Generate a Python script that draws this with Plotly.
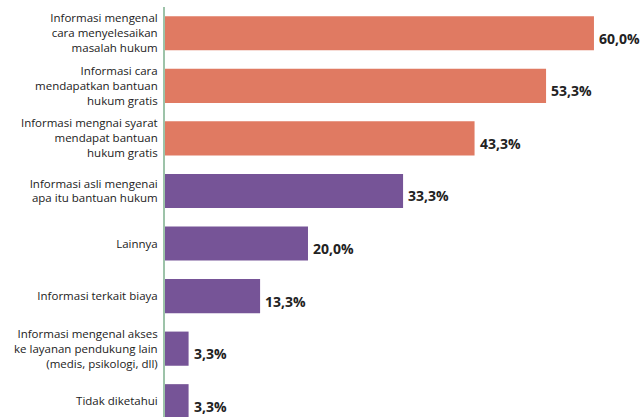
import plotly.graph_objects as go

categories = [
    "Informasi mengenal<br>cara menyelesaikan<br>masalah hukum",
    "Informasi cara<br>mendapatkan bantuan<br>hukum gratis",
    "Informasi mengnai syarat<br>mendapat bantuan<br>hukum gratis",
    "Informasi asli mengenai<br>apa itu bantuan hukum",
    "Lainnya",
    "Informasi terkait biaya",
    "Informasi mengenal akses<br>ke layanan pendukung lain<br>(medis, psikologi, dll)",
    "Tidak diketahui",
]
values = [60.0, 53.3, 43.3, 33.3, 20.0, 13.3, 3.3, 3.3]
value_labels = ["60,0%", "53,3%", "43,3%", "33,3%", "20,0%", "13,3%", "3,3%", "3,3%"]
bar_colors = ["#E07A62"] * 3 + ["#765497"] * 5

fig = go.Figure()
fig.add_trace(go.Bar(
    x=values, y=categories, orientation="h",
    marker=dict(color=bar_colors, line=dict(width=0)),
    width=0.65, hoverinfo="skip",
))
for v, c, t in zip(values, categories, value_labels):
    fig.add_annotation(x=v, y=c, text="<b>" + t + "</b>", showarrow=False,
                       xanchor="left", yanchor="middle", xshift=3, yshift=-5,
                       font=dict(family="Open Sans", size=14, color="#222222"))

fig.update_layout(
    width=644, height=417,
    margin=dict(l=165, r=0, t=7, b=0),
    paper_bgcolor="white", plot_bgcolor="white",
    showlegend=False,
    font=dict(family="Open Sans", size=11.5, color="#222222"),
    xaxis=dict(range=[0, 67], visible=False, showgrid=False, zeroline=False, automargin=False),
    yaxis=dict(type="category", range=[7.3, -0.5], showline=True, linecolor="#9DC3A9",
               linewidth=2, ticks="", showgrid=False, ticklabelstandoff=3, automargin=False,
               tickfont=dict(family="Open Sans", size=11.5, color="#222222")),
)
fig.write_html("out.html", config={"displayModeBar": False},
               post_script="document.body.style.margin='0';document.body.style.overflow='hidden';")
